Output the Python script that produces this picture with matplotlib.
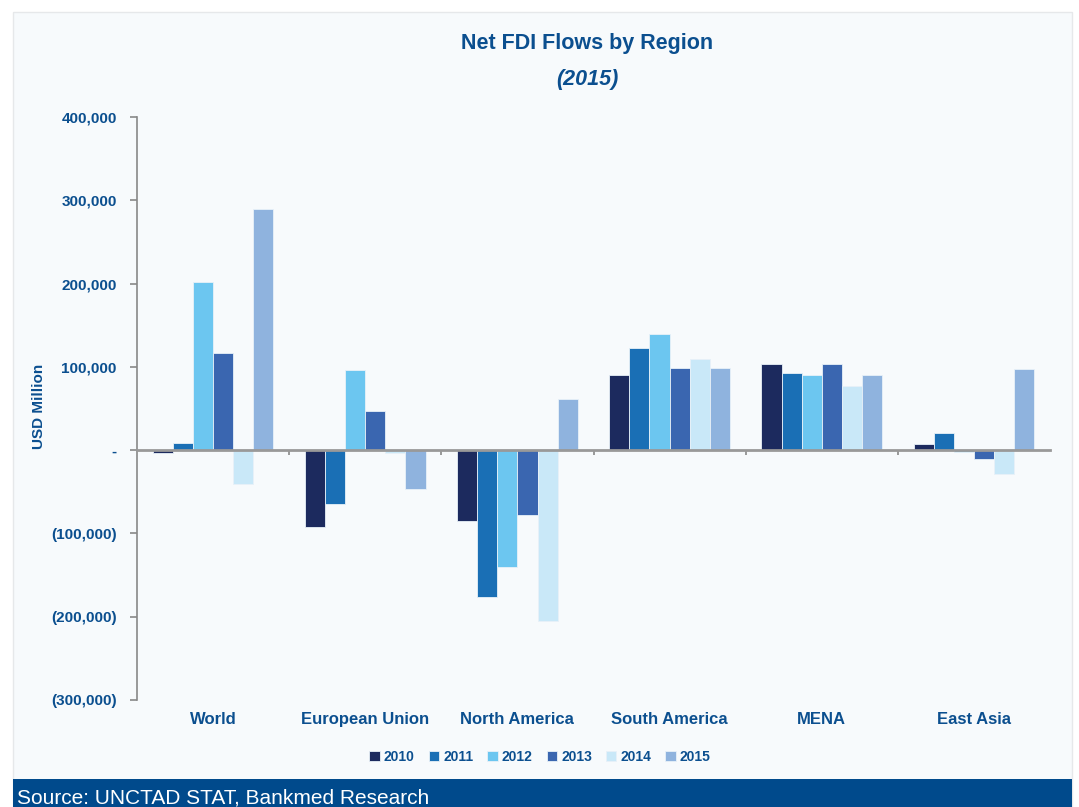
import numpy as np
import matplotlib.pyplot as plt
from matplotlib.patches import Rectangle
from matplotlib.ticker import FuncFormatter

plt.rcParams['font.family'] = ['Liberation Sans', 'DejaVu Sans']

regions = ["World", "European Union", "North America", "South America", "MENA", "East Asia"]
years = ["2010", "2011", "2012", "2013", "2014", "2015"]

# USD million, one list per year (order follows regions)
v2010 = [-3000, -92000, -85000, 90000, 103000, 7000]
v2011 = [8000, -65000, -176000, 123000, 93000, 21000]
v2012 = [202000, 96000, -140000, 140000, 90000, -2000]
v2013 = [117000, 47000, -78000, 99000, 103000, -11000]
v2014 = [-41000, -4000, -205000, 109000, 77000, -29000]
v2015 = [289000, -47000, 61000, 99000, 90000, 97000]
series = [v2010, v2011, v2012, v2013, v2014, v2015]

colors = ["#1c2a5e", "#1a6fb5", "#6cc6f0", "#3a66b0", "#c9e8f8", "#8fb3de"]
text_color = "#0b4f8f"

fig = plt.figure(figsize=(10.79, 8.07), dpi=100, facecolor="white")

# panel background and source bar
fig.patches.append(Rectangle((13 / 1079, 0), 1059 / 1079, 1 - 12 / 807,
                             transform=fig.transFigure, facecolor="#f7fafc",
                             edgecolor="#e6e8ea", lw=1, zorder=-2))
fig.patches.append(Rectangle((13 / 1079, 0), 1059 / 1079, 28 / 807,
                             transform=fig.transFigure, facecolor="#004a8c",
                             edgecolor="none", zorder=-1))
fig.text(17 / 1079, 9 / 807, "Source: UNCTAD STAT, Bankmed Research",
         color="white", fontsize=15, va="center", ha="left")

ax = fig.add_axes([137 / 1079, 1 - 700 / 807, 913 / 1079, (700 - 117) / 807])
ax.set_facecolor("none")

x = np.arange(len(regions))
w = 0.132
for i, (yr, vals) in enumerate(zip(years, series)):
    ax.bar(x + (i - 2.5) * w, vals, w, color=colors[i], label=yr,
           edgecolor="#e8f1f8", linewidth=0.6, zorder=2)

ax.set_xlim(-0.5, len(regions) - 0.5)
ax.set_ylim(-300000, 400000)
ax.set_yticks(np.arange(-300000, 400001, 100000))


def fmt(v, pos):
    if v == 0:
        return "-"
    if v < 0:
        return "({:,.0f})".format(-v)
    return "{:,.0f}".format(v)


ax.yaxis.set_major_formatter(FuncFormatter(fmt))
ax.tick_params(axis="y", colors="#888888", labelcolor=text_color,
               labelsize=11, length=5, width=1.2, pad=9.5)
for lbl in ax.get_yticklabels():
    lbl.set_fontweight("bold")

for s in ["top", "right"]:
    ax.spines[s].set_visible(False)
ax.spines["left"].set_color("#888888")
ax.spines["left"].set_linewidth(1.2)
ax.spines["bottom"].set_position(("data", 0))
ax.spines["bottom"].set_color("#999999")
ax.spines["bottom"].set_linewidth(2)
ax.spines["bottom"].set_zorder(3)

# boundary ticks on the zero line, category names at the bottom
ax.set_xticks(np.arange(0.5, len(regions) - 0.5, 1), minor=False)
ax.set_xticklabels([])
ax.tick_params(axis="x", colors="#888888", length=3.5, width=1.2, direction="out")
for xi, name in zip(x, regions):
    ax.text(xi, -0.034, name, transform=ax.get_xaxis_transform(),
            ha="center", va="center", fontsize=12, fontweight="bold", color=text_color)

ax.set_ylabel("USD Million", fontsize=11, fontweight="bold", color=text_color)
ax.yaxis.set_label_coords(-0.1, 0.504)

fig.text(587 / 1079, 1 - 44 / 807, "Net FDI Flows by Region", ha="center", va="center",
         fontsize=15.5, fontweight="bold", color=text_color)
fig.text(587 / 1079, 1 - 79 / 807, "(2015)", ha="center", va="center",
         fontsize=15.5, fontweight="bold", fontstyle="italic", color=text_color)

leg = fig.legend(loc="center", bbox_to_anchor=(540 / 1079, 1 - 757 / 807), ncol=6,
                 frameon=False, handlelength=0.75, handleheight=0.75, handletextpad=0.3,
                 columnspacing=1.0, prop={"weight": "bold", "size": 10})
for t in leg.get_texts():
    t.set_color(text_color)

fig.savefig("out.png", dpi=100, facecolor="white")
